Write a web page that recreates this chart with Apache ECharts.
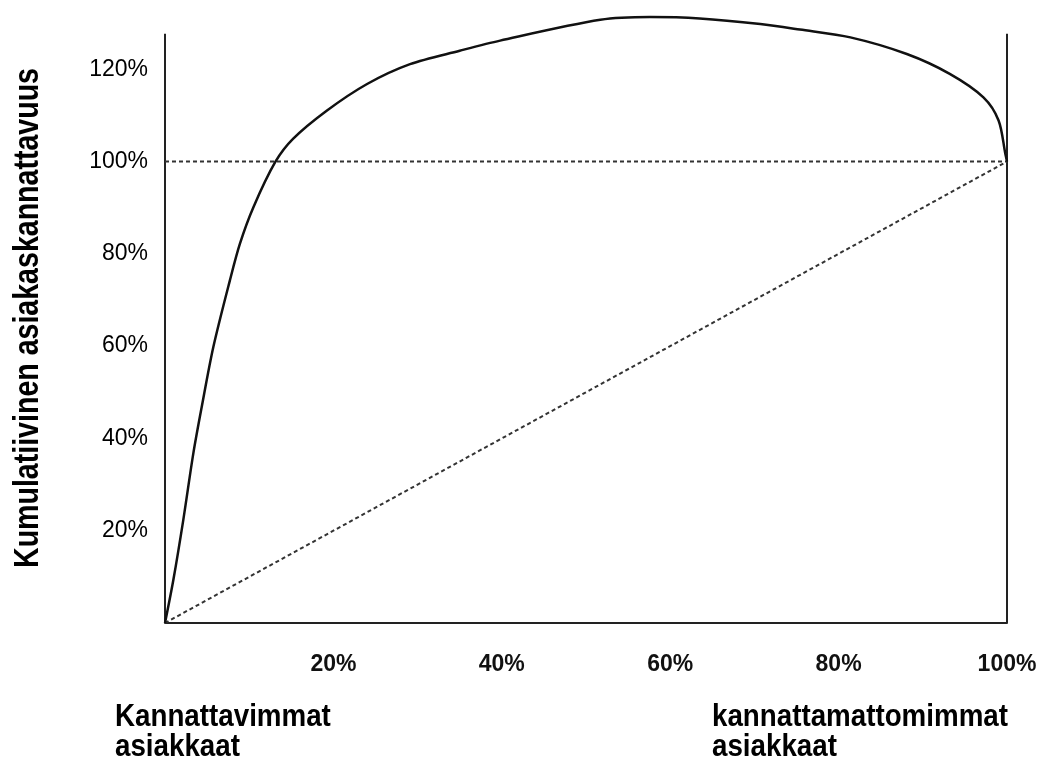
<!DOCTYPE html>
<html>
<head>
<meta charset="utf-8">
<script src="https://cdn.jsdelivr.net/npm/echarts@6/dist/echarts.min.js"></script>
<style>
  html, body { margin: 0; padding: 0; background: #fff; }
  #chart { width: 1042px; height: 758px; }
</style>
</head>
<body>
<div id="chart"></div>
<script>
// cumulative customer profitability (x = share of customers %, y = cumulative profit %)
const curveX = [0, 0.99, 2.17, 3.36, 4.36, 5.74, 7.7, 8.9, 10.5, 13.1, 15.2, 19.2, 24.0, 29.1, 35.0, 39.8, 51.7, 57.6, 63.5, 70.7, 75.4, 81.4, 88.1, 93.2, 97.2, 99.0, 99.8, 100];
const curveY = [0, 9.3, 22.3, 36.7, 46.8, 59.8, 74.2, 82.2, 90.1, 99.9, 104.9, 111.0, 116.8, 121.1, 124.0, 126.2, 130.7, 131.3, 131.0, 129.8, 128.6, 126.9, 123.3, 119.0, 113.9, 108.9, 101.7, 100];
const refLineX = [0, 100];
const refLineY = [100, 100];
const diagX = [0, 100];
const diagY = [0, 100];
const frameTop = 127.7;
const xTicks = [20, 40, 60, 80, 100];
const yTicks = [20, 40, 60, 80, 100, 120];

const zip = (xs, ys) => xs.map((x, i) => [x, ys[i]]);

const chart = echarts.init(document.getElementById('chart'));
const sans = "'Liberation Sans', Arial, sans-serif";

const option = {
    animation: false,
    backgroundColor: '#fff',
    grid: { left: 165, right: 35, top: 0, bottom: 135, containLabel: false, outerBoundsMode: 'none' },
    xAxis: {
        type: 'value',
        min: 0,
        max: 100,
        interval: 20,
        axisLine: { show: true, lineStyle: { color: '#222', width: 2 } },
        axisTick: { show: false },
        splitLine: { show: false },
        axisLabel: {
            margin: 30,
            fontSize: 23,
            fontWeight: 'bold',
            fontFamily: sans,
            color: '#111',
            formatter: v => xTicks.includes(v) ? v + '%' : ''
        }
    },
    yAxis: {
        type: 'value',
        min: 0,
        max: 135,
        interval: 20,
        axisLine: { show: false },
        axisTick: { show: false },
        splitLine: { show: false },
        axisLabel: {
            margin: 17,
            fontSize: 23,
            fontFamily: sans,
            color: '#000',
            formatter: v => yTicks.includes(v) ? v + '%' : ''
        }
    },
    graphic: [
        {
            type: 'text',
            x: 28,
            y: 318,
            rotation: Math.PI / 2,
            scaleX: 0.816,
            style: {
                text: 'Kumulatiivinen asiakaskannattavuus',
                font: 'bold 35px ' + sans,
                fill: '#000',
                align: 'center',
                verticalAlign: 'middle'
            }
        },
        {
            type: 'text',
            x: 115,
            y: 702,
            scaleX: 0.867,
            style: {
                text: 'Kannattavimmat\nasiakkaat',
                font: 'bold 32px ' + sans,
                fill: '#000',
                lineHeight: 30,
                verticalAlign: 'top'
            }
        },
        {
            type: 'text',
            x: 712,
            y: 702,
            scaleX: 0.867,
            style: {
                text: 'kannattamattomimmat\nasiakkaat',
                font: 'bold 32px ' + sans,
                fill: '#000',
                lineHeight: 30,
                verticalAlign: 'top'
            }
        }
    ],
    series: [
        {
            type: 'line',
            data: [[0, 0], [0, frameTop]],
            symbol: 'none',
            lineStyle: { color: '#222', width: 2 }
        },
        {
            type: 'line',
            data: [[100, 0], [100, frameTop]],
            symbol: 'none',
            lineStyle: { color: '#222', width: 2 }
        },
        {
            type: 'line',
            data: zip(refLineX, refLineY),
            symbol: 'none',
            lineStyle: { color: '#333', width: 2, type: [4, 3] }
        },
        {
            type: 'line',
            data: zip(diagX, diagY),
            symbol: 'none',
            lineStyle: { color: '#333', width: 2, type: [4, 3] }
        },
        {
            type: 'line',
            data: zip(curveX, curveY),
            symbol: 'none',
            smooth: 0.3,
            lineStyle: { color: '#111', width: 2.5 }
        }
    ]
};

chart.setOption(option);
</script>
</body>
</html>
